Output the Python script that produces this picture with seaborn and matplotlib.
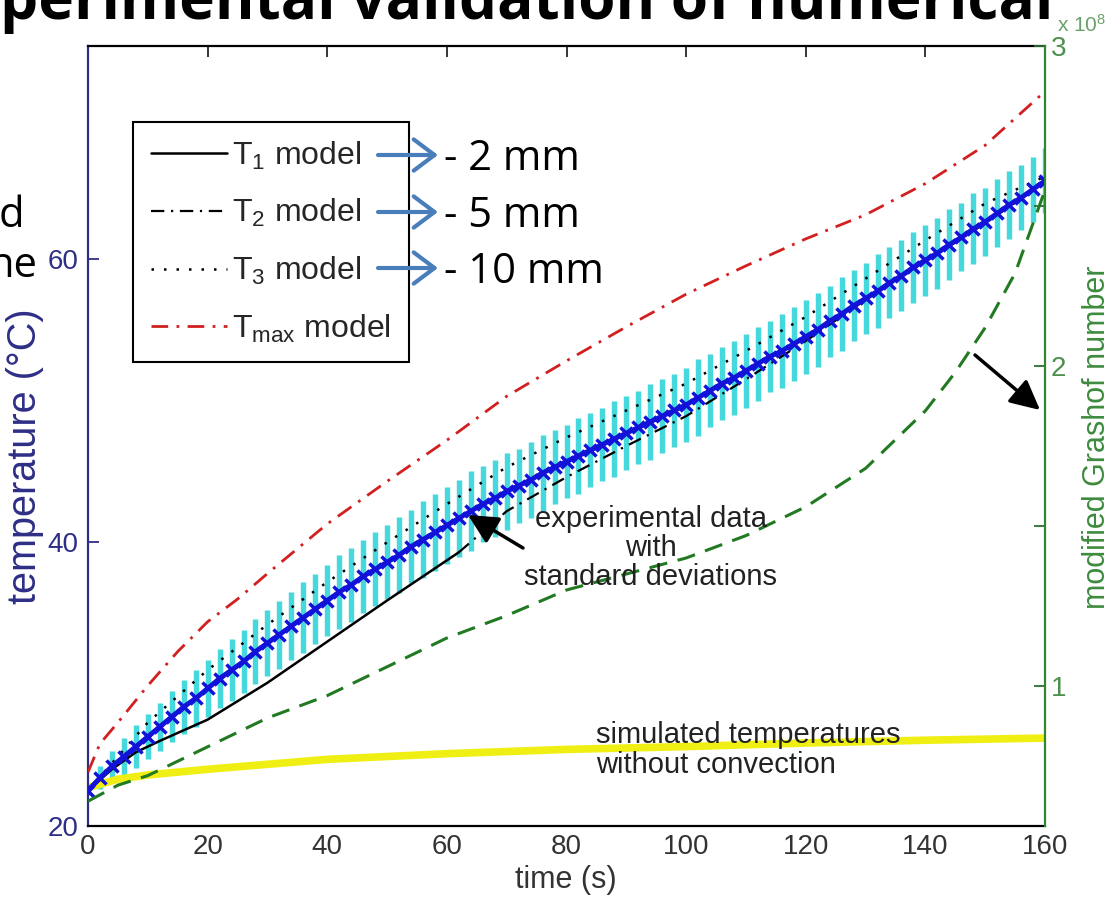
import numpy as np
import matplotlib
matplotlib.use("Agg")
import matplotlib.pyplot as plt
import seaborn as sns

# experimental temperature (mean, std) read every 2 s
exp_time = np.arange(0, 161, 2)
exp_mean = [22.5, 23.4, 24.2, 24.9, 25.6,
             26.3, 27.0, 27.7, 28.4, 29.0,
             29.7, 30.4, 31.0, 31.6, 32.3,
             32.9, 33.5, 34.1, 34.7, 35.3,
             35.9, 36.5, 37.0, 37.6, 38.1,
             38.6, 39.1, 39.7, 40.2, 40.7,
             41.2, 41.7, 42.2, 42.7, 43.1,
             43.6, 44.0, 44.4, 44.9, 45.3,
             45.7, 46.1, 46.5, 46.9, 47.3,
             47.7, 48.1, 48.5, 48.9, 49.3,
             49.7, 50.2, 50.7, 51.2, 51.6,
             52.1, 52.6, 53.1, 53.5, 54.0,
             54.5, 55.0, 55.6, 56.1, 56.7,
             57.2, 57.7, 58.3, 58.8, 59.4,
             59.9, 60.4, 61.0, 61.5, 62.1,
             62.6, 63.2, 63.8, 64.3, 64.9,
             65.5]
exp_std = [0.3, 0.8, 1.1, 1.3, 1.5,
           1.6, 1.7, 1.8, 1.9, 2.0,
           2.0, 2.1, 2.2, 2.2, 2.3,
           2.3, 2.4, 2.4, 2.5, 2.5,
           2.5, 2.6, 2.6, 2.6, 2.6,
           2.6, 2.7, 2.6, 2.7, 2.7,
           2.7, 2.7, 2.8, 2.7, 2.7,
           2.7, 2.6, 2.7, 2.7, 2.6,
           2.6, 2.7, 2.6, 2.6, 2.7,
           2.6, 2.6, 2.7, 2.6, 2.6,
           2.6, 2.7, 2.6, 2.6, 2.6,
           2.6, 2.6, 2.5, 2.6, 2.6,
           2.6, 2.6, 2.5, 2.6, 2.5,
           2.5, 2.6, 2.5, 2.5, 2.5,
           2.5, 2.5, 2.5, 2.4, 2.5,
           2.4, 2.4, 2.4, 2.3, 2.3,
           2.3]

# model curves (temperature, degC)
t1_time = [0, 4, 8, 12, 20, 30, 40, 50, 62]
t1_temp = [22.5, 24.0, 25.2, 26.0, 27.5, 30.1, 33.0, 35.9, 39.3]

t2_time = [62, 70, 80, 90, 100, 110, 120, 130, 140, 150, 160]
t2_temp = [39.3, 42.2, 44.6, 46.8, 48.9, 51.5, 54.2, 57.1, 59.8, 62.5, 65.4]

t3_time = [0, 10, 20, 30, 40, 50, 60, 70, 80, 90, 100, 110, 120, 130, 140, 150, 160]
t3_temp = [22.5, 27.3, 31.0, 34.2, 37.2, 40.0, 42.7, 45.3, 47.4, 49.3, 51.2,
           53.5, 55.9, 58.6, 61.3, 63.9, 65.8]

tmax_time = [0, 2, 5, 10, 15, 20, 25, 30, 40, 50, 60, 70, 80, 90, 100, 110,
             120, 130, 140, 150, 160]
tmax_temp = [23.8, 25.8, 27.3, 29.9, 32.3, 34.4, 36.0, 37.8, 41.3, 44.3, 47.2,
             50.3, 52.8, 55.2, 57.5, 59.5, 61.4, 63.1, 65.3, 68.0, 71.8]

# simulation without convection
noconv_time = [0, 5, 10, 20, 40, 60, 80, 100, 120, 140, 160]
noconv_temp = [22.7, 23.3, 23.6, 24.0, 24.7, 25.1, 25.4, 25.6, 25.85, 26.05, 26.2]

# modified Grashof number (x 1e8)
gr_time = [0, 5, 10, 20, 30, 40, 50, 60, 70, 80, 90, 100, 110, 120, 130, 140,
           145, 150, 155, 160]
gr_value = [0.64, 0.69, 0.72, 0.81, 0.90, 0.97, 1.06, 1.15, 1.22, 1.30, 1.35,
            1.40, 1.47, 1.56, 1.68, 1.86, 1.98, 2.12, 2.29, 2.55]

legend_labels = [r"T$_1$ model", r"T$_2$ model", r"T$_3$ model", r"T$_{\rm max}$ model"]
depth_labels = ["- 2 mm", "- 5 mm", "- 10 mm"]

sns.set_style("white")
plt.rcParams["font.family"] = ["Liberation Sans", "DejaVu Sans"]
plt.rcParams["mathtext.fontset"] = "custom"
plt.rcParams["mathtext.rm"] = "Liberation Sans"
plt.rcParams["mathtext.it"] = "Liberation Sans:italic"

NAVY = "#2e2e86"
GREEN = "#2f872f"
BLUE = "#1212d8"
SLIDE_FONT = ["Open Sans", "DejaVu Sans"]
W, H = 1115, 901


def fpx(x, y):
    # picture pixel (top-left origin) -> figure fraction
    return x / W, 1 - y / H


fig = plt.figure(figsize=(W / 100, H / 100), dpi=100)
ax = fig.add_axes([88 / W, 75 / H, 957 / W, 780 / H])
ax2 = ax.twinx()

# experimental data with std bars
ax.errorbar(exp_time, exp_mean, yerr=exp_std, fmt="none", ecolor="#45d8dc",
            elinewidth=3.9, capsize=0, zorder=2)

sns.lineplot(x=noconv_time, y=noconv_temp, ax=ax, color="#f0ef14", lw=5.5, zorder=2)
sns.lineplot(x=t1_time, y=t1_temp, ax=ax, color="black", lw=1.8, zorder=3)
h1 = ax.lines[-1]
sns.lineplot(x=t2_time, y=t2_temp, ax=ax, color="black", lw=1.6,
             linestyle=(0, (6, 3, 1, 3)), zorder=3)
h2 = ax.lines[-1]
sns.lineplot(x=t3_time, y=t3_temp, ax=ax, color="black", lw=1.8,
             linestyle=(0, (1, 4)), zorder=3)
h3 = ax.lines[-1]
sns.lineplot(x=tmax_time, y=tmax_temp, ax=ax, color="#d21f1f", lw=2.0,
             linestyle=(0, (6, 3, 1, 3)), zorder=3)
hmax = ax.lines[-1]
sns.lineplot(x=exp_time, y=exp_mean, ax=ax, color=BLUE, lw=3.5, marker="x",
             markersize=8, markeredgewidth=2.5, markeredgecolor=BLUE, zorder=4)

sns.lineplot(x=gr_time, y=gr_value, ax=ax2, color="#217a21", lw=2.2,
             linestyle=(0, (6, 3.5)))

# axes look (MATLAB plotyy style)
ax.set_xlim(0, 160)
ax.set_ylim(20, 75)
ax2.set_ylim(0.5625, 3.0)
ax.set_xticks(range(0, 161, 20))
ax.set_yticks([20, 40, 60])
ax2.set_yticks([1, 1.5, 2, 2.5, 3])
ax2.set_yticklabels(["1", "", "2", "", "3"])
ax.set_xlabel("")
ax.set_ylabel("")
ax2.set_ylabel("")

ax.tick_params(axis="x", direction="in", top=True, length=8, width=1.3,
               labelsize=20, labelcolor="#333333", pad=6)
ax.tick_params(axis="y", direction="in", length=8, width=1.3, color=NAVY,
               labelsize=20, labelcolor=NAVY, pad=7)
ax2.tick_params(axis="y", direction="in", length=8, width=1.3, color="#2d6d2d",
                labelsize=20, labelcolor="#4d8f4d", pad=4)

for side in ["top", "bottom"]:
    ax.spines[side].set_color("black")
    ax.spines[side].set_linewidth(1.6)
ax.spines["left"].set_color(NAVY)
ax.spines["left"].set_linewidth(1.6)
ax.spines["right"].set_visible(False)
for side in ["left", "top", "bottom"]:
    ax2.spines[side].set_visible(False)
ax2.spines["right"].set_color(GREEN)
ax2.spines["right"].set_linewidth(1.6)

leg = ax.legend([h1, h2, h3, hmax], legend_labels, loc="upper left",
                bbox_to_anchor=fpx(133, 122), bbox_transform=fig.transFigure,
                frameon=True, fancybox=False, framealpha=1, edgecolor="black",
                fontsize=23, handlelength=2.4, handletextpad=0.15,
                labelspacing=0.8, borderpad=0.55, borderaxespad=0)
leg.get_frame().set_linewidth(1.5)

# axis labels
fig.text(*fpx(25, 456), "temperature (°C)", rotation=90, ha="center",
         va="center", fontsize=28.5, color=NAVY)
fig.text(*fpx(1097, 437), "modified Grashof number", rotation=90, ha="center",
         va="center", fontsize=22, color="#3d8a3d")
fig.text(*fpx(566, 880), "time (s)", ha="center", va="center", fontsize=22,
         color="#333333")
fig.text(*fpx(1057, 32), r"x 10$^{8}$", ha="left", va="baseline", fontsize=15,
         color="#6aa06a")

# annotations inside the plot
fig.text(*fpx(651, 548), "experimental data\nwith\nstandard deviations",
         ha="center", va="center", multialignment="center", fontsize=21,
         linespacing=1.05, color="#222222")
fig.text(*fpx(596, 750), "simulated temperatures\nwithout convection",
         ha="left", va="center", fontsize=21, linespacing=1.05, color="#222222")

arrow_kw = dict(arrowstyle="-|>,head_length=0.6,head_width=0.3", color="black",
                lw=2.5, mutation_scale=30, shrinkA=0, shrinkB=0)
ax2.annotate("", xy=(468, H - 515), xytext=(523, H - 548), xycoords="figure pixels",
             textcoords="figure pixels", arrowprops=arrow_kw)
ax2.annotate("", xy=(1040, H - 410), xytext=(975, H - 355), xycoords="figure pixels",
             textcoords="figure pixels", arrowprops=arrow_kw)

# slide overlay: depth arrows and labels
blue_kw = dict(arrowstyle="->,head_length=0.6,head_width=0.45", color="#4a7ebb",
               lw=3, mutation_scale=25, shrinkA=0, shrinkB=0)
for label, y_mid, y_base in zip(depth_labels, [155, 212, 268], [170, 227, 283]):
    ax2.annotate("", xy=(438, H - y_mid), xytext=(378, H - y_mid),
                 xycoords="figure pixels", textcoords="figure pixels",
                 arrowprops=blue_kw)
    fig.text(*fpx(444, y_base), label, ha="left", va="baseline", fontsize=30,
             family=SLIDE_FONT, color="black")

# slide text cut by the crop
fig.text(*fpx(0, 19), "perimental validation of numerical", ha="left",
         va="baseline", fontsize=43.5, fontweight="bold", family=SLIDE_FONT,
         color="black")
fig.text(*fpx(24, 227), "d", ha="right", va="baseline", fontsize=30,
         family=SLIDE_FONT, color="black")
fig.text(*fpx(37, 277), "he", ha="right", va="baseline", fontsize=30,
         family=SLIDE_FONT, color="black")

fig.savefig("out.png", dpi=100, facecolor="white")
